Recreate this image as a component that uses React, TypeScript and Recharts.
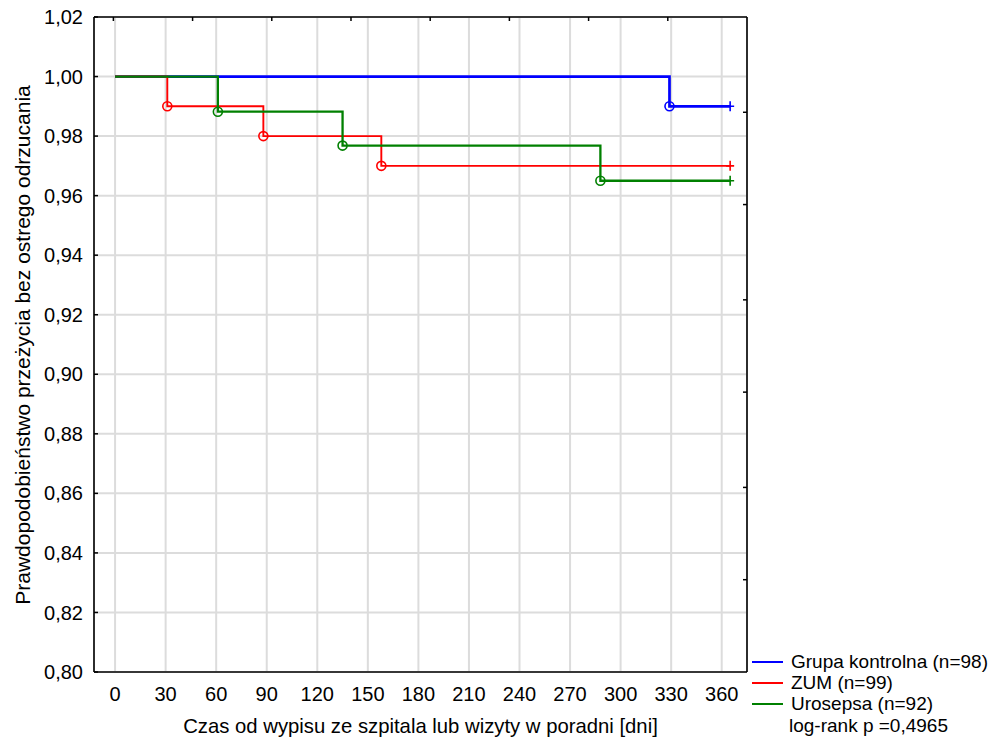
import { LineChart, Line, XAxis, YAxis, CartesianGrid } from "recharts"

const FONT = '"Liberation Sans", Arial, sans-serif'

// x axis (days) and y axis (survival probability)
const xTicks = [0, 30, 60, 90, 120, 150, 180, 210, 240, 270, 300, 330, 360]
const yTicks = [0.8, 0.82, 0.84, 0.86, 0.88, 0.9, 0.92, 0.94, 0.96, 0.98, 1.0, 1.02]
const topTicks = [-1, 46, 93, 140, 187, 234, 281, 328]
const rightTicks = [0.831, 0.862, 0.894, 0.925, 0.957, 0.988]

// Kaplan-Meier steps: time, survival, mark ("o" = event, "+" = censored)
const controlTimes = [0, 329, 365]
const controlSurv = [1, 0.99, 0.99]
const controlMarks = ["", "o", "+"]

const zumTimes = [0, 31, 88, 158, 365]
const zumSurv = [1, 0.99, 0.98, 0.97, 0.97]
const zumMarks = ["", "o", "o", "o", "+"]

const uroTimes = [0, 61, 135, 288, 365]
const uroSurv = [1, 0.9882, 0.9768, 0.965, 0.965]
const uroMarks = ["", "o", "o", "o", "+"]

const legendItems = [
  { label: "Grupa kontrolna (n=98)", color: "#0000ff" },
  { label: "ZUM (n=99)", color: "#ff0000" },
  { label: "Urosepsa (n=92)", color: "#008000" },
]

const build = (t: number[], s: number[], m: string[]) => t.map((v, i) => ({ t: v, s: s[i], mark: m[i] }))

const controlData = build(controlTimes, controlSurv, controlMarks)
const zumData = build(zumTimes, zumSurv, zumMarks)
const uroData = build(uroTimes, uroSurv, uroMarks)

const makeDot = (color: string) => (props: any) => {
  const { cx, cy, payload, index } = props
  if (payload.mark === "o") {
    return <circle key={`o-${index}`} cx={cx} cy={cy} r={4.5} fill="none" stroke={color} strokeWidth={1.6} />
  }
  if (payload.mark === "+") {
    return (
      <path
        key={`p-${index}`}
        d={`M${cx - 4},${cy}H${cx + 4}M${cx},${cy - 5}V${cy + 5}`}
        stroke={color}
        strokeWidth={1.6}
        fill="none"
      />
    )
  }
  return <g key={`n-${index}`} />
}

const LeftTick = (props: any) => {
  const { x, y, payload } = props
  return (
    <g>
      <line x1={x + 11} x2={x + 15} y1={y} y2={y} stroke="#000" strokeWidth={1.5} />
      <text x={x} y={y} dy="0.355em" textAnchor="end" fontSize={20} fontFamily={FONT} fill="#000">
        {payload.value.toFixed(2).replace(".", ",")}
      </text>
    </g>
  )
}

const TopTick = (props: any) => {
  const { x, y } = props
  return <line x1={x} x2={x} y1={y} y2={y + 4} stroke="#000" strokeWidth={1.5} />
}

const RightTick = (props: any) => {
  const { x, y } = props
  return <line x1={x - 4} x2={x} y1={y} y2={y} stroke="#000" strokeWidth={1.5} />
}

export default function App() {
  return (
    <div style={{ position: "absolute", left: 0, top: 0, width: 992, height: 745, background: "#fff" }}>
      <LineChart width={992} height={745} margin={{ top: 16, right: 244, left: 0, bottom: 0 }}>
        <CartesianGrid xAxisId="main" yAxisId="main" stroke="#dcdcdc" strokeWidth={2} />
        <XAxis
          xAxisId="main"
          dataKey="t"
          type="number"
          domain={[-12.5, 375]}
          ticks={xTicks}
          interval={0}
          allowDataOverflow
          height={73}
          tickLine={false}
          tickSize={0}
          tickMargin={15}
          tick={{ fontSize: 20, fill: "#000", fontFamily: FONT }}
          axisLine={{ stroke: "#000", strokeWidth: 1.6 }}
          label={{
            value: "Czas od wypisu ze szpitala lub wizyty w poradni [dni]",
            position: "insideBottom",
            offset: 12,
            fontSize: 20.3,
            fill: "#000",
            fontFamily: FONT,
          }}
        />
        <XAxis
          xAxisId="top"
          orientation="top"
          dataKey="t"
          type="number"
          domain={[-12.5, 375]}
          ticks={topTicks}
          interval={0}
          allowDataOverflow
          height={1}
          tickLine={false}
          tickSize={0}
          tickMargin={0}
          tick={<TopTick />}
          axisLine={{ stroke: "#000", strokeWidth: 1.6 }}
        />
        <YAxis
          yAxisId="main"
          type="number"
          domain={[0.8, 1.02]}
          ticks={yTicks}
          interval={0}
          allowDataOverflow
          width={94}
          tickLine={false}
          tickSize={0}
          tickMargin={11}
          tick={<LeftTick />}
          axisLine={{ stroke: "#000", strokeWidth: 1.6 }}
          label={(p: any) => (
            <text
              transform="rotate(-90)"
              x={-345}
              y={30}
              textAnchor="middle"
              fontSize={21}
              fontFamily={FONT}
              fill="#000"
            >
              Prawdopodobieństwo przeżycia bez ostrego odrzucania
            </text>
          )}
        />
        <YAxis
          yAxisId="right"
          orientation="right"
          type="number"
          domain={[0.8, 1.02]}
          ticks={rightTicks}
          interval={0}
          allowDataOverflow
          width={1}
          tickLine={false}
          tickSize={0}
          tickMargin={0}
          tick={<RightTick />}
          axisLine={{ stroke: "#000", strokeWidth: 1.6 }}
        />
        <Line
          xAxisId="main"
          yAxisId="main"
          data={controlData}
          dataKey="s"
          type="stepAfter"
          stroke="#0000ff"
          strokeWidth={2.7}
          dot={makeDot("#0000ff")}
          activeDot={false}
          isAnimationActive={false}
        />
        <Line
          xAxisId="main"
          yAxisId="main"
          data={zumData}
          dataKey="s"
          type="stepAfter"
          stroke="#ff0000"
          strokeWidth={1.9}
          dot={makeDot("#ff0000")}
          activeDot={false}
          isAnimationActive={false}
        />
        <Line
          xAxisId="main"
          yAxisId="main"
          data={uroData}
          dataKey="s"
          type="stepAfter"
          stroke="#008000"
          strokeWidth={2.3}
          dot={makeDot("#008000")}
          activeDot={false}
          isAnimationActive={false}
        />
      </LineChart>
      <div style={{ position: "absolute", left: 752, top: 651, fontFamily: FONT, fontSize: 19, color: "#000" }}>
        {legendItems.map((it) => (
          <div key={it.label} style={{ display: "flex", alignItems: "center", height: 21, whiteSpace: "nowrap" }}>
            <span style={{ display: "inline-block", width: 31, height: 2, background: it.color, marginRight: 8 }} />
            {it.label}
          </div>
        ))}
        <div style={{ height: 21, lineHeight: "21px", marginLeft: 37, marginTop: 1, whiteSpace: "nowrap" }}>
          log-rank p =0,4965
        </div>
      </div>
    </div>
  )
}
